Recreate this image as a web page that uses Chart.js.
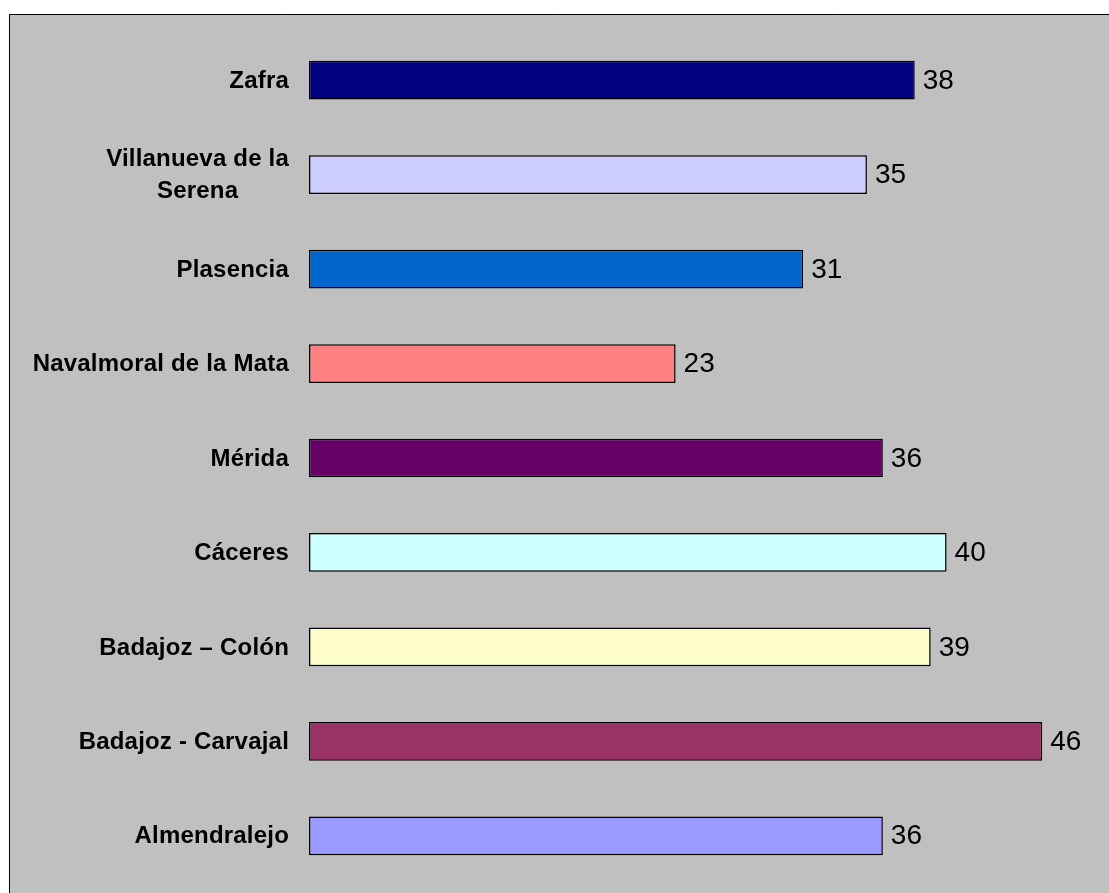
<!DOCTYPE html>
<html>
<head>
<meta charset="utf-8">
<script src="https://cdn.jsdelivr.net/npm/chart.js@4"></script>
<style>
  html, body { margin: 0; padding: 0; background: #fff; }
  #wrap { width: 1109px; height: 893px; }
</style>
</head>
<body>
<div id="wrap"><canvas id="chart" width="1109" height="893"></canvas></div>
<script>
// categories (top to bottom) and values
const centros = [
  'Zafra',
  ['Villanueva de la', 'Serena'],
  'Plasencia',
  'Navalmoral de la Mata',
  'Mérida',
  'Cáceres',
  'Badajoz – Colón',
  'Badajoz - Carvajal',
  'Almendralejo'
];
const valores = [38, 35, 31, 23, 36, 40, 39, 46, 36];
const colores = ['#000080', '#CCCCFF', '#0066CC', '#FF8080', '#660066', '#CCFFFF', '#FFFFCC', '#993366', '#9999FF'];
const ejeMax = 50;

const FONT = '"Liberation Sans", Arial, sans-serif';

// gray plot frame like the original Excel chart
const frame = {
  id: 'frame',
  beforeDraw(chart) {
    const { ctx, width, height } = chart;
    ctx.save();
    ctx.fillStyle = '#fff';
    ctx.fillRect(0, 0, width, height);
    ctx.fillStyle = '#C0C0C0';
    ctx.fillRect(9, 14, width - 9, height - 14);
    ctx.strokeStyle = '#000';
    ctx.lineWidth = 1;
    ctx.beginPath();
    ctx.moveTo(9.5, height);
    ctx.lineTo(9.5, 14.5);
    ctx.lineTo(width, 14.5);
    ctx.stroke();
    ctx.restore();
  }
};

// category labels, right aligned, multi-line blocks centered
const catLabels = {
  id: 'catLabels',
  afterDraw(chart) {
    const { ctx } = chart;
    const y = chart.scales.y;
    const right = chart.chartArea.left - 20;
    const lineH = 32;
    ctx.save();
    ctx.font = 'bold 24px ' + FONT;
    ctx.letterSpacing = '0.2px';
    ctx.fillStyle = '#000';
    ctx.textBaseline = 'middle';
    ctx.textAlign = 'center';
    centros.forEach((lab, i) => {
      const lines = Array.isArray(lab) ? lab : [lab];
      const maxW = Math.max(...lines.map(l => ctx.measureText(l).width));
      const cx = right - maxW / 2;
      const cy = y.getPixelForValue(i) + 1;
      const top = cy - (lines.length - 1) * lineH / 2;
      lines.forEach((l, k) => ctx.fillText(l, cx, top + k * lineH));
    });
    ctx.restore();
  }
};

// value labels right of each bar
const valLabels = {
  id: 'valLabels',
  afterDatasetsDraw(chart) {
    const { ctx } = chart;
    const meta = chart.getDatasetMeta(0);
    ctx.save();
    ctx.font = '28px ' + FONT;
    ctx.fillStyle = '#000';
    ctx.textBaseline = 'middle';
    ctx.textAlign = 'left';
    meta.data.forEach((bar, i) => {
      ctx.fillText(String(valores[i]), bar.x + 8, bar.y + 1);
    });
    ctx.restore();
  }
};

new Chart(document.getElementById('chart'), {
  type: 'bar',
  data: {
    labels: centros,
    datasets: [{
      data: valores,
      backgroundColor: colores,
      borderColor: '#000',
      borderWidth: 1.5,
      borderSkipped: false,
      barPercentage: 0.41,
      categoryPercentage: 1
    }]
  },
  options: {
    indexAxis: 'y',
    responsive: false,
    animation: false,
    layout: { padding: { left: 309, right: 3, top: 33, bottom: 10 } },
    plugins: {
      legend: { display: false },
      tooltip: { enabled: false }
    },
    scales: {
      x: { display: false, min: 0, max: ejeMax },
      y: { display: false }
    }
  },
  plugins: [frame, catLabels, valLabels]
});
</script>
</body>
</html>
